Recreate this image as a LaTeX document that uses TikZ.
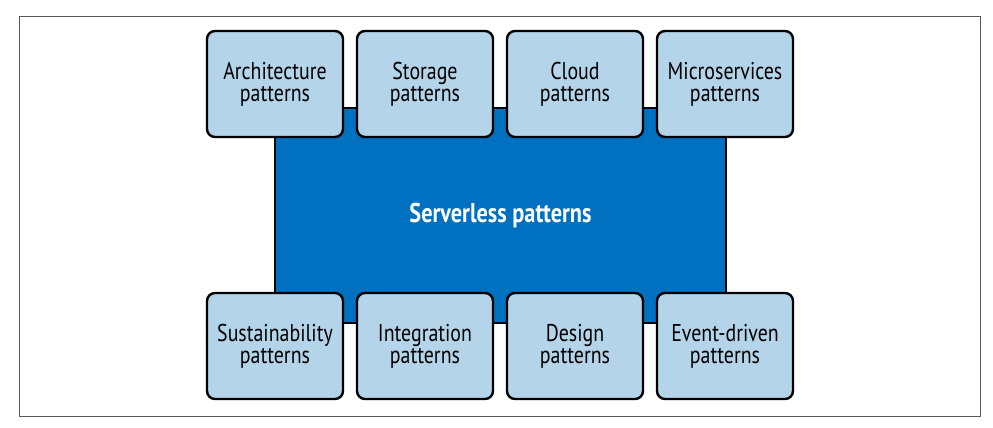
\documentclass[tikz,border=0pt]{standalone}
\usepackage{fontspec}
\setmainfont{PT Sans}[FakeStretch=0.82]
\definecolor{coreblue}{RGB}{0,112,192}
\definecolor{boxblue}{RGB}{180,212,234}
\begin{document}
\begin{tikzpicture}[x=0.75pt,y=-0.75pt,
    patbox/.style={draw=black,line width=1.8pt,fill=boxblue,rounded corners=6pt,minimum width=102pt,minimum height=79.5pt,align=center,font=\fontsize{18.2}{16.5}\selectfont,inner sep=0pt},
    corebox/.style={draw=black,line width=1.2pt,fill=coreblue,minimum width=338pt,minimum height=161pt,text=white,font=\fontsize{20.4}{22}\selectfont\bfseries,inner sep=0pt}]
        \useasboundingbox (0,0) rectangle (993,428);
        \draw[gray!70!black,line width=0.6pt] (19,16) rectangle (980,416);
        \node[corebox] (core) at (500.5,215.5) {Serverless patterns};
        \node[patbox] (arch) at (275,84) {Architecture\\patterns};
        \node[patbox] (storage) at (425,84) {Storage\\patterns};
        \node[patbox] (cloud) at (575,84) {Cloud\\patterns};
        \node[patbox] (micro) at (725,84) {Microservices\\patterns};
        \node[patbox] (sustain) at (275,346) {Sustainability\\patterns};
        \node[patbox] (integ) at (425,346) {Integration\\patterns};
        \node[patbox] (design) at (575,346) {Design\\patterns};
        \node[patbox] (event) at (725,346) {Event-driven\\patterns};
    \end{tikzpicture}
\end{document}
